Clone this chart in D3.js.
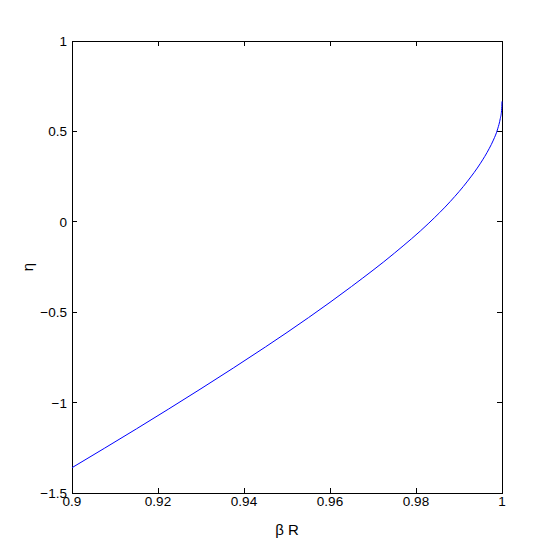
<!DOCTYPE html>
<html><head><meta charset="utf-8">
<script src="https://cdn.jsdelivr.net/npm/d3@7"></script>
<style>body{margin:0;background:#fff}svg{display:block}text{font-family:"Liberation Sans",Arial,sans-serif;fill:#000}</style>
</head><body><svg id="c" width="554" height="554"></svg>
<script>
const betaR = [0.900, 0.915, 0.930, 0.945, 0.955, 0.965, 0.975, 0.983, 0.988, 0.992, 0.995, 0.997, 0.998, 0.999, 0.9996, 0.9999, 1.0];
const eta   = [-1.36, -1.145, -0.923, -0.692, -0.530, -0.358, -0.173, -0.007, 0.113, 0.225, 0.324, 0.404, 0.452, 0.514, 0.571, 0.616, 0.666];
const xTicks = [0.9, 0.92, 0.94, 0.96, 0.98, 1];
const yTicks = [-1.5, -1, -0.5, 0, 0.5, 1];
const xLabel = "β R";
const yLabel = "η";

const svg = d3.select("#c");
const L = 72, R = 502, T = 41, B = 493;
const x = d3.scaleLinear().domain([0.9, 1]).range([L, R]);
const y = d3.scaleLinear().domain([-1.5, 1]).range([B, T]);
const fmt = d => (d < 0 ? "\u2212" + String(-d) : String(d));

svg.append("rect").attr("x", L).attr("y", T).attr("width", R - L).attr("height", B - T)
  .attr("fill", "none").attr("stroke", "#000").attr("stroke-width", 1).attr("shape-rendering", "crispEdges");

const tl = 5;
const g = svg.append("g").attr("stroke", "#000").attr("shape-rendering", "crispEdges");
xTicks.forEach(d => {
  g.append("line").attr("x1", x(d)).attr("x2", x(d)).attr("y1", B).attr("y2", B - tl);
  g.append("line").attr("x1", x(d)).attr("x2", x(d)).attr("y1", T).attr("y2", T + tl);
});
yTicks.forEach(d => {
  g.append("line").attr("x1", L).attr("x2", L + tl).attr("y1", y(d)).attr("y2", y(d));
  g.append("line").attr("x1", R).attr("x2", R - tl).attr("y1", y(d)).attr("y2", y(d));
});

svg.append("g").selectAll("text").data(xTicks).join("text")
  .attr("x", d => x(d)).attr("y", B + 13).attr("text-anchor", "middle")
  .attr("font-size", 13.5).text(fmt);
svg.append("g").selectAll("text").data(yTicks).join("text")
  .attr("x", L - 5).attr("y", d => y(d) + 5).attr("text-anchor", "end")
  .attr("font-size", 13.5).text(fmt);

svg.append("text").attr("x", (L + R) / 2).attr("y", 535).attr("text-anchor", "middle")
  .attr("font-size", 15).text(xLabel);
svg.append("text").attr("transform", `translate(33,${(T + B) / 2}) rotate(-90)`)
  .attr("text-anchor", "middle").attr("font-size", 15).text(yLabel);

const pts = betaR.map((b, i) => [b, eta[i]]);
svg.append("path").datum(pts)
  .attr("fill", "none").attr("stroke", "#0000ff").attr("stroke-width", 1)
  .attr("d", d3.line().x(d => x(d[0])).y(d => y(d[1])).curve(d3.curveMonotoneX));
</script></body></html>
